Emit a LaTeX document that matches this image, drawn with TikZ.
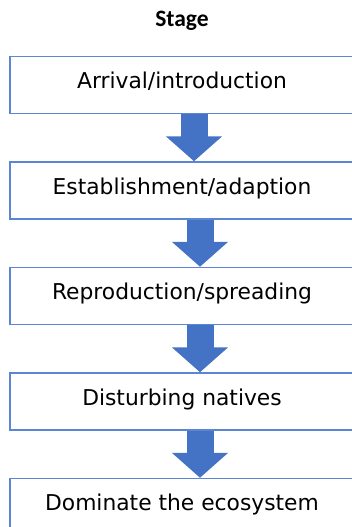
\documentclass[tikz,border=0pt]{standalone}
\usepackage{fontspec}
\setmainfont{DejaVu Sans}
\newfontfamily\titlefont{Carlito}
\usetikzlibrary{positioning,arrows.meta}

\definecolor{stageblue}{HTML}{4472C4}
\definecolor{stageline}{HTML}{5B86D3}

\tikzset{
  stagebox/.style={draw=stageline, line width=1.5pt, minimum width=344pt,
    minimum height=57pt, text height=12pt, text depth=5pt, inner sep=0pt,
    font=\fontsize{21.8}{26}\selectfont},
  stagearrow/.style={stageblue, line width=27pt,
    -{Triangle[width=55pt,length=25pt]}}
}

\begin{document}
\begin{tikzpicture}[x=1pt,y=-1pt]
      \useasboundingbox (0,0) rectangle (352,527);
      \clip (0,0) rectangle (352,527);

      % ---- heading ------------------------------------
      \node[anchor=base, font=\titlefont\bfseries\fontsize{23.5}{28}\selectfont] (title) at (182,27) {Stage};

      % ---- the five stages, one under the other -------
      \node[stagebox] (arrive) at (182,85) {Arrival/introduction};
      \node[stagebox, below=47pt of arrive] (establish) {Establishment/adaption};
      \node[stagebox, below=47pt of establish] (spread) {Reproduction/spreading};
      \node[stagebox, below=47pt of spread] (disturb) {Disturbing natives};
      \node[stagebox, below=47pt of disturb] (dominate) {Dominate the ecosystem};

      % ---- block arrows between the boxes -------------
      \draw[stagearrow] ([xshift=12pt]arrive.south) -- ([xshift=12pt]establish.north);
      \draw[stagearrow] ([xshift=18pt]establish.south) -- ([xshift=18pt]spread.north);
      \draw[stagearrow] ([xshift=18pt]spread.south) -- ([xshift=18pt]disturb.north);
      \draw[stagearrow] ([xshift=18pt]disturb.south) -- ([xshift=18pt]dominate.north);
    \end{tikzpicture}
\end{document}
